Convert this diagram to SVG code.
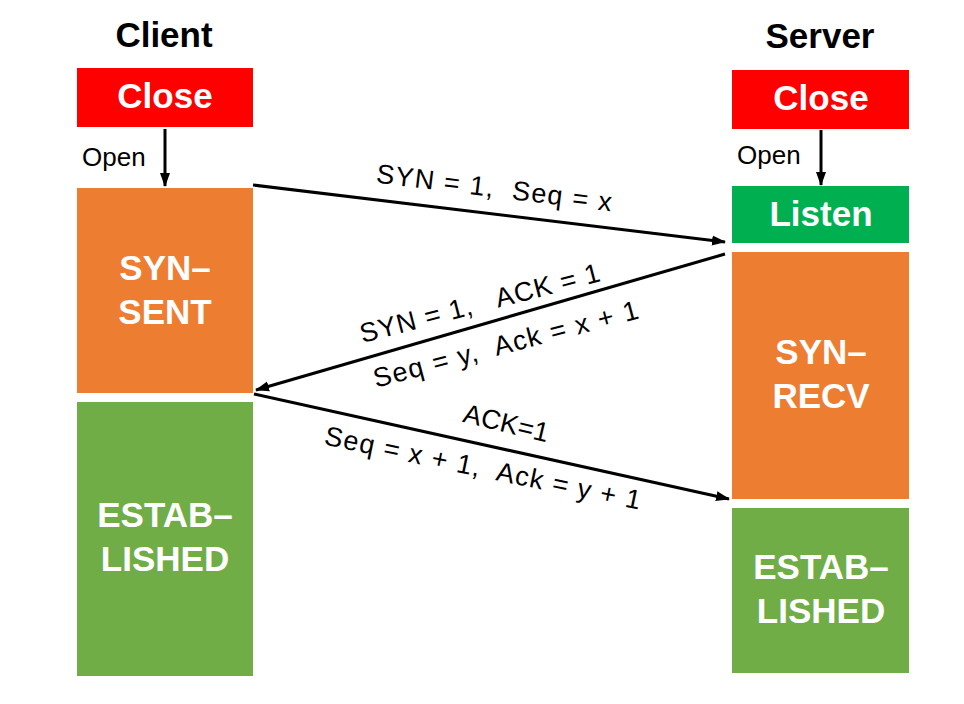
<svg xmlns="http://www.w3.org/2000/svg" width="964" height="704" viewBox="0 0 964 704">
<style>
.t{font-family:"Liberation Sans",Arial,Helvetica,sans-serif;}
.hd{font-size:35px;font-weight:bold;fill:#000;text-anchor:middle;}
.st{font-size:35px;font-weight:bold;fill:#fff;text-anchor:middle;}
.op{font-size:26px;fill:#000;}
.lb{font-size:27px;fill:#000;text-anchor:middle;white-space:pre;}
.ln{stroke:#000;stroke-width:3;fill:none;}
.red{fill:#FF0000;}
.org{fill:#ED7D31;}
.lgr{fill:#00B050;}
.egr{fill:#70AD47;}
</style>
<defs>
<marker id="ah" markerUnits="userSpaceOnUse" markerWidth="14" markerHeight="12" refX="13" refY="6" orient="auto">
<path d="M0,1 L14,6 L0,11 z" fill="#000"/>
</marker>
</defs>
<rect width="964" height="704" fill="#fff"/>
<text class="t hd" x="164" y="47">Client</text>
<text class="t hd" x="820" y="48">Server</text>
<g id="client-close"><rect class="red" x="77" y="68" width="176" height="59"/><text class="t st" x="165" y="108">Close</text></g>
<g id="client-synsent"><rect class="org" x="77" y="188" width="176" height="205"/><text class="t st" x="165" y="280">SYN–</text><text class="t st" x="165" y="324">SENT</text></g>
<g id="client-established"><rect class="egr" x="77" y="402" width="176" height="274"/><text class="t st" x="165" y="527">ESTAB–</text><text class="t st" x="165" y="571">LISHED</text></g>
<g id="server-close"><rect class="red" x="732" y="70" width="177" height="59"/><text class="t st" x="821" y="110">Close</text></g>
<g id="server-listen"><rect class="lgr" x="732" y="186" width="177" height="57"/><text class="t st" x="821" y="226">Listen</text></g>
<g id="server-synrecv"><rect class="org" x="732" y="252" width="177" height="247"/><text class="t st" x="821" y="364">SYN–</text><text class="t st" x="821" y="408">RECV</text></g>
<g id="server-established"><rect class="egr" x="732" y="508" width="177" height="165"/><text class="t st" x="821" y="579">ESTAB–</text><text class="t st" x="821" y="623">LISHED</text></g>
<g id="connectors">
<path class="ln" d="M165,129 L165,186" marker-end="url(#ah)"/>
<text class="t op" x="82" y="166">Open</text>
<path class="ln" d="M821,130 L821,185" marker-end="url(#ah)"/>
<text class="t op" x="737" y="164">Open</text>
<path class="ln" d="M253,185 L725,242" marker-end="url(#ah)"/>
<text class="t lb" transform="translate(493,197) rotate(7)" x="0" y="0" textLength="237" lengthAdjust="spacing">SYN = 1,  Seq = x</text>
<path class="ln" d="M725,254 L256,390" marker-end="url(#ah)"/>
<text class="t lb" transform="translate(482,312) rotate(-14.5)" x="0" y="0" textLength="247" lengthAdjust="spacing">SYN = 1,   ACK = 1</text>
<text class="t lb" transform="translate(508,353) rotate(-14.8)" x="0" y="0" textLength="273" lengthAdjust="spacing">Seq = y,  Ack = x + 1</text>
<path class="ln" d="M254,394 L729,499" marker-end="url(#ah)"/>
<text class="t lb" transform="translate(504,432) rotate(13.5)" x="0" y="0" textLength="87" lengthAdjust="spacing">ACK=1</text>
<text class="t lb" transform="translate(481,477) rotate(11.7)" x="0" y="0" textLength="322" lengthAdjust="spacing">Seq = x + 1,  Ack = y + 1</text>
</g>
</svg>
